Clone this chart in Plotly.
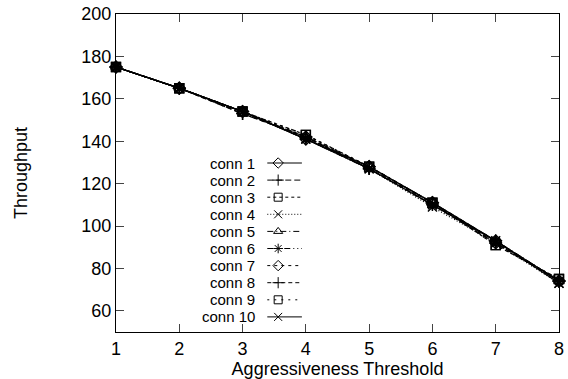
import plotly.graph_objects as go

x_vals = [1, 2, 3, 4, 5, 6, 7, 8]
series_names = ["conn 1", "conn 2", "conn 3", "conn 4", "conn 5",
                "conn 6", "conn 7", "conn 8", "conn 9", "conn 10"]
conn1 = [175, 165, 154, 141, 128, 111, 93, 74]
conn2 = [175, 165, 153, 142, 127, 110, 92, 74]
conn3 = [175, 165, 154, 143, 128, 111, 91, 75]
conn4 = [175, 165, 154, 141, 127, 109, 92, 73]
conn5 = [175, 165, 154, 142, 128, 111, 93, 74]
conn6 = [175, 165, 154, 141, 127, 110, 93, 74]
conn7 = [175, 165, 154, 142, 128, 111, 92, 74]
conn8 = [175, 165, 153, 142, 127, 111, 93, 74]
conn9 = [175, 165, 154, 143, 128, 111, 91, 75]
conn10 = [175, 165, 154, 141, 127, 110, 93, 73]
series_values = [conn1, conn2, conn3, conn4, conn5, conn6, conn7, conn8, conn9, conn10]

x_ticks = [1, 2, 3, 4, 5, 6, 7, 8]
y_ticks = [60, 80, 100, 120, 140, 160, 180, 200]

symbols = ["diamond-open", "cross-thin-open", "square-open", "x-thin-open",
           "triangle-up-open", "asterisk-open", "diamond-open", "cross-thin-open",
           "square-open", "x-thin-open"]
dashes = ["solid", "6px,3px", "3px,3px", "1px,2px", "6px,3px,1px,3px",
          "6px,3px,1px,3px,1px,3px", "3px,4px", "4px,3px", "2px,5px", "solid"]

FONT = "Liberation Sans, Arial, Helvetica, sans-serif"
FS = 18
LFS = 15
fig = go.Figure()

for name, vals, sym, d in zip(series_names, series_values, symbols, dashes):
    fig.add_trace(go.Scatter(
        x=x_vals, y=vals, mode="lines+markers", name=name,
        line=dict(color="black", width=1.3, dash=d),
        marker=dict(symbol=sym, size=9, color="black", line=dict(width=1.4, color="black")),
        showlegend=False, cliponaxis=False,
    ))

# custom gnuplot-style legend (pixel coordinates in overlay axes)
L = 116; R = 564; T = 14; B = 332
row0 = 163
step = 17.1
for i, (name, sym, d) in enumerate(zip(series_names, symbols, dashes)):
    yy = row0 + i * step
    fig.add_trace(go.Scatter(
        x=[269, 304], y=[yy, yy], mode="lines", xaxis="x2", yaxis="y2",
        line=dict(color="black", width=1, dash=d), showlegend=False, hoverinfo="skip"))
    fig.add_trace(go.Scatter(
        x=[280], y=[yy], mode="markers", xaxis="x2", yaxis="y2",
        marker=dict(symbol=sym, size=8, color="black", line=dict(width=1, color="black")),
        showlegend=False, hoverinfo="skip"))
    fig.add_annotation(x=258, y=yy, xref="x2", yref="y2", text=name, showarrow=False,
                       xanchor="right", yanchor="middle", borderpad=0,
                       font=dict(family=FONT, size=LFS, color="black"))

fig.update_layout(
    width=568, height=379,
    margin=dict(l=L, r=568 - R, t=T, b=379 - B),
    paper_bgcolor="white", plot_bgcolor="white",
    font=dict(family=FONT, size=FS, color="black"),
    xaxis=dict(range=[1, 8], tickvals=x_ticks, ticks="inside", ticklen=8,
               showline=True, linecolor="black", linewidth=1, mirror="ticks",
               showgrid=False, zeroline=False, tickfont=dict(size=FS),
               ticklabeloverflow="allow",
               title=dict(text="Aggressiveness Threshold", standoff=0,
                          font=dict(family=FONT, size=FS))),
    yaxis=dict(range=[50, 200], tickvals=y_ticks, ticks="inside", ticklen=8,
               showline=True, linecolor="black", linewidth=1, mirror="ticks",
               showgrid=False, zeroline=False, tickfont=dict(size=FS),
               title=dict(text="Throughput", standoff=49,
                          font=dict(family=FONT, size=FS))),
    xaxis2=dict(range=[L, R], overlaying="x", visible=False, anchor="y2"),
    yaxis2=dict(range=[B, T], overlaying="y", visible=False, anchor="x2"),
)

fig.write_html("out.html")
